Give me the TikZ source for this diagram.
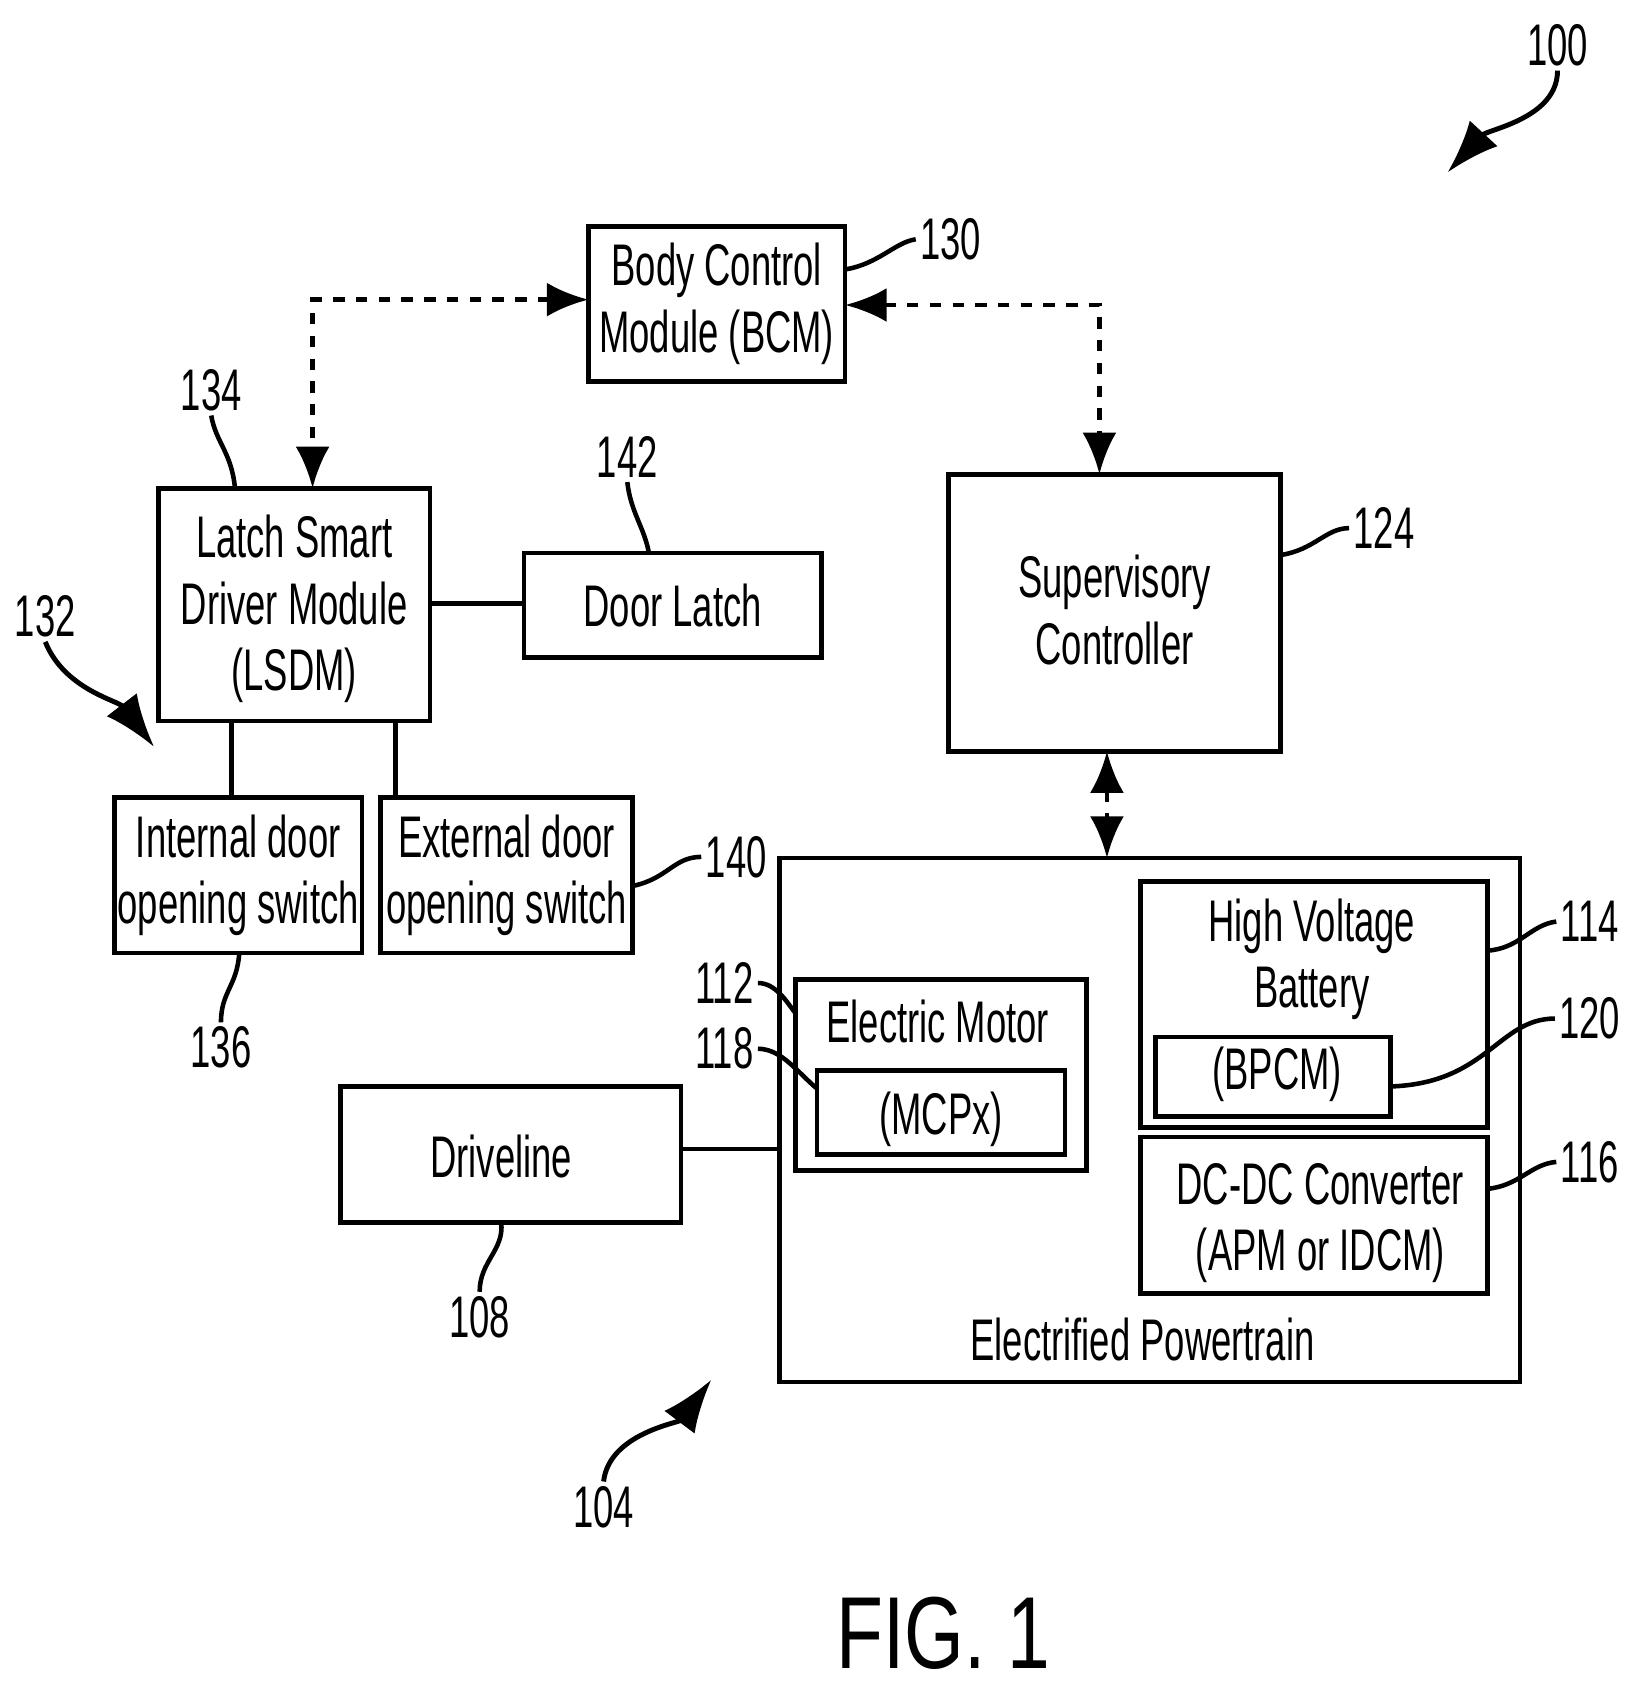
\documentclass[tikz,border=0pt]{standalone}
\usepackage{fontspec}
\setmainfont{Liberation Sans}
\newfontfamily\cond[FakeStretch=0.62]{Liberation Sans}
\newfontfamily\condb[FakeStretch=0.75]{Liberation Sans}
\usetikzlibrary{arrows.meta}
\begin{document}
\begin{tikzpicture}[x=0.01cm,y=-0.01cm,
  bx/.style={draw,line width=1.2pt},
  txt/.style={font=\cond\fontsize{15.5}{17.5}\selectfont,align=center,inner sep=0},
  lab/.style={font=\cond\fontsize{15.5}{17.5}\selectfont,inner sep=1pt},
  conn/.style={line width=1.2pt},
  darr/.style={line width=1.3pt,dashed,{Latex[length=11pt,width=9pt]}-{Latex[length=11pt,width=9pt]}},
  lead/.style={line width=1.2pt},
  ptr/.style={line width=1.3pt,-{Latex[length=14pt,width=10pt]}}]
\useasboundingbox (0,0) rectangle (1530,1580);
% boxes
\draw[bx] (546,210) rectangle (784,354);
\node[txt] (bcm) at (665,282) {Body Control\\Module (BCM)};
\coordinate (bcmL) at (546,278); \coordinate (bcmR) at (784,283);
\draw[bx] (147,453) rectangle (399,669);
\node[txt] (lsdm) at (273,565) {Latch Smart\\Driver Module\\(LSDM)};
\draw[bx] (486,513) rectangle (762,610);
\node[txt] (latch) at (624,562) {Door Latch};
\draw[bx] (880,440) rectangle (1188,697);
\node[txt] (sup) at (1034,566) {Supervisory\\Controller};
\draw[bx] (106,740) rectangle (336,884);
\node[txt] (int) at (221,812) {Internal door\\opening switch};
\draw[bx] (353,740) rectangle (587,884);
\node[txt] (ext) at (470,812) {External door\\opening switch};
\draw[bx] (723,796) rectangle (1410,1282);
\node[txt] (ep) at (1060,1243) {Electrified Powertrain};
\draw[bx] (1058,818) rectangle (1380,1046);
\node[txt] (hv) at (1217,890) {High Voltage\\Battery};
\draw[bx] (1072,962) rectangle (1290,1036);
\node[txt] (bpcm) at (1185,997) {(BPCM)};
\draw[bx] (1058,1055) rectangle (1380,1200);
\node[txt] (dc) at (1225,1135) {DC-DC Converter\\(APM or IDCM)};
\draw[bx] (738,909) rectangle (1008,1086);
\node[txt] (em) at (870,948) {Electric Motor};
\draw[bx] (758,993) rectangle (988,1071);
\node[txt] (mcp) at (873,1038) {(MCPx)};
\draw[bx] (316,1008) rectangle (632,1134);
\node[txt] (drv) at (465,1073) {Driveline};
% connectors
\draw[darr] (bcmL) -- (290,278) -- (290,453);
\draw[darr] (bcmR) -- (1020,283) -- (1020,440);
\draw[darr] (1027,697) -- (1027,796);
\draw[conn] (399,560) -- (486,560);
\draw[conn] (215,669) -- (215,740);
\draw[conn] (367,669) -- (367,740);
\draw[conn] (632,1066) -- (723,1066);
% labels & leaders
\node[lab] (l130) at (882,222) {130};
\draw[lead] (784,250) .. controls (815,245) and (830,225) .. (l130.west);
\node[lab] (l134) at (196,362) {134};
\draw[lead] (l134.south) .. controls (200,410) and (215,420) .. (218,453);
\node[lab] (l142) at (582,424) {142};
\draw[lead] (l142.south) .. controls (585,475) and (598,490) .. (602,513);
\node[lab] (l124) at (1284,490) {124};
\draw[lead] (1188,515) .. controls (1220,510) and (1230,490) .. (l124.west);
\node[lab] (l132) at (42,572) {132};
\draw[ptr] (l132.south) .. controls (60,640) and (110,650) .. (143,693);
\node[lab] (l140) at (683,795) {140};
\draw[lead] (587,822) .. controls (620,815) and (625,795) .. (l140.west);
\node[lab] (l136) at (205,972) {136};
\draw[lead] (222,884) .. controls (220,915) and (205,920) .. (l136.north);
\node[lab] (l112) at (672,912) {112};
\draw[lead] (l112.east) .. controls (720,912) and (730,930) .. (738,940);
\node[lab] (l118) at (672,973) {118};
\draw[lead] (l118.east) .. controls (725,973) and (740,995) .. (758,1010);
\node[lab] (l114) at (1475,855) {114};
\draw[lead] (1380,882) .. controls (1410,880) and (1420,858) .. (l114.west);
\node[lab] (l120) at (1475,945) {120};
\draw[lead] (1290,1008) .. controls (1380,1005) and (1390,945) .. (l120.west);
\node[lab] (l116) at (1475,1078) {116};
\draw[lead] (1380,1103) .. controls (1410,1100) and (1420,1080) .. (l116.west);
\node[lab] (l108) at (445,1222) {108};
\draw[lead] (465,1134) .. controls (468,1160) and (445,1170) .. (l108.north);
\node[lab] (l104) at (560,1398) {104};
\draw[ptr] (l104.north) .. controls (565,1330) and (630,1320) .. (660,1280);
\node[lab] (l100) at (1445,42) {100};
\draw[ptr] (l100.south) .. controls (1445,110) and (1380,120) .. (1343,160);
\node[font=\condb\fontsize{27}{30}\selectfont,inner sep=0] (fig) at (875,1515) {FIG. 1};
\end{tikzpicture}
\end{document}
